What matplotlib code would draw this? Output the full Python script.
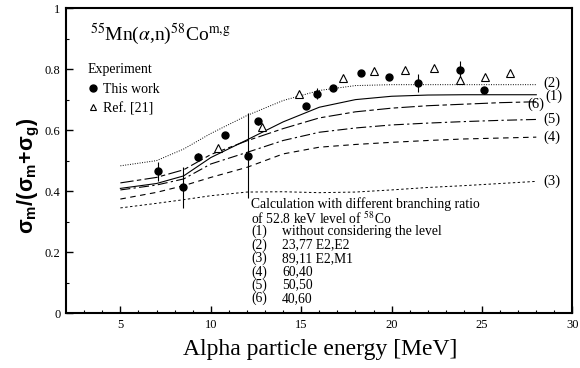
import numpy as np
import matplotlib
matplotlib.use('Agg')
import matplotlib.pyplot as plt
from matplotlib.lines import Line2D

plt.rcParams['font.family'] = ['Liberation Serif', 'DejaVu Serif']
plt.rcParams['mathtext.fontset'] = 'stix'

# Experimental points, this work (energy MeV, ratio, error)
e_this = [7.07, 8.49, 9.32, 10.8, 12.05, 12.59, 15.24, 15.89, 16.75, 18.32, 19.84, 21.46, 23.8, 25.1]
r_this = [0.465, 0.412, 0.513, 0.585, 0.516, 0.629, 0.679, 0.720, 0.738, 0.787, 0.775, 0.754, 0.797, 0.730]
err_this = [0.032, 0.068, 0.012, 0.0, 0.140, 0.012, 0.0, 0.018, 0.0, 0.0, 0.0, 0.030, 0.029, 0.012]

# Ref. [21]
e_ref = [10.41, 12.81, 14.89, 17.33, 19.0, 20.72, 22.33, 23.77, 25.15, 26.57]
r_ref = [0.543, 0.610, 0.717, 0.770, 0.793, 0.798, 0.805, 0.763, 0.775, 0.786]

# Calculated curves
e_calc = [5, 7, 8.5, 10, 12, 14, 16, 18, 20, 22, 24, 26, 28]
calc1 = [0.409, 0.425, 0.450, 0.510, 0.568, 0.627, 0.675, 0.700, 0.711, 0.715, 0.716, 0.716, 0.716]
calc2 = [0.483, 0.500, 0.538, 0.589, 0.648, 0.697, 0.730, 0.746, 0.749, 0.749, 0.749, 0.749, 0.749]
calc3 = [0.345, 0.360, 0.372, 0.385, 0.397, 0.398, 0.395, 0.397, 0.404, 0.412, 0.418, 0.425, 0.432]
calc4 = [0.374, 0.396, 0.418, 0.445, 0.478, 0.522, 0.544, 0.553, 0.560, 0.566, 0.571, 0.574, 0.577]
calc5 = [0.404, 0.420, 0.440, 0.489, 0.527, 0.566, 0.593, 0.607, 0.617, 0.623, 0.628, 0.632, 0.635]
calc6 = [0.427, 0.445, 0.470, 0.520, 0.565, 0.605, 0.640, 0.660, 0.672, 0.680, 0.685, 0.690, 0.693]

curve_tags = ['(1)', '(2)', '(3)', '(4)', '(5)', '(6)']
curve_desc = ['without considering the level', '23,77 E2,E2', '89,11 E2,M1',
              '60,40', '50,50', '40,60']

fig = plt.figure(figsize=(5.8, 3.68), dpi=100)
ax = fig.add_axes([0.114, 0.149, 0.873, 0.829])

ax.plot(e_calc, calc1, color='black', lw=0.8, ls='-')
ax.plot(e_calc, calc2, color='black', lw=0.7, ls=(0, (1, 1.5)))
ax.plot(e_calc, calc3, color='black', lw=0.7, ls=(0, (2.5, 2.5)))
ax.plot(e_calc, calc4, color='black', lw=0.8, ls=(0, (5, 4)))
ax.plot(e_calc, calc5, color='black', lw=0.8, ls=(0, (9, 3, 2, 3)))
ax.plot(e_calc, calc6, color='black', lw=0.8, ls=(0, (12, 3, 4, 3)))

ax.errorbar(e_this, r_this, yerr=err_this, fmt='o', color='black', ms=5,
            elinewidth=0.8, capsize=0)
ax.plot(e_ref, r_ref, '^', mfc='white', mec='black', mew=0.8, ms=5.5, ls='none')

ax.set_xlim(2, 30)
ax.set_ylim(0, 1)
ax.set_xticks([5, 10, 15, 20, 25, 30])
ax.set_xticks(np.arange(3, 30, 1), minor=True)
ax.set_yticks([0, 0.2, 0.4, 0.6, 0.8, 1])
ax.set_yticklabels(['0', '0.2', '0.4', '0.6', '0.8', '1'])
ax.set_yticks(np.arange(0.1, 1, 0.2), minor=True)
ax.tick_params(which='major', direction='in', length=5, width=1, labelsize=9, pad=4)
ax.tick_params(which='minor', direction='in', length=2.5, width=0.8)
for s in ax.spines.values():
    s.set_linewidth(1.5)

ax.set_ylabel('σ$\\mathregular{_m}$/(σ$\\mathregular{_m}$+σ$\\mathregular{_g}$)',
              family='Liberation Sans', fontweight='bold', fontsize=15.5)
ax.yaxis.set_label_coords(-0.047, 0.45)
fig.text(0.552, 0.049, 'Alpha particle energy [MeV]', fontsize=17, ha='center', va='center')

ax.text(3.3, 0.913, r'$^{55}$Mn($\alpha$,n)$^{58}$Co$^{\mathrm{m{,}g}}$', fontsize=14, va='center')

# legend handles without the error bar stroke
h1 = Line2D([], [], ls='none', marker='o', color='black', ms=5)
h2 = Line2D([], [], ls='none', marker='^', mfc='white', mec='black', mew=0.8, ms=4.5)
leg = ax.legend(handles=[h1, h2], labels=['This work', 'Ref. [21]'], loc='upper left',
                bbox_to_anchor=(0.0415, 0.82), frameon=False, title='Experiment',
                fontsize=10, title_fontsize=10, handletextpad=0.25, labelspacing=0.42,
                borderaxespad=0, borderpad=0, handlelength=0.86)
leg._legend_box.align = 'left'
leg._legend_box.sep = 5

# curve tags at the right
tag_pos = [(28.5, 0.711), (28.4, 0.755), (28.4, 0.432), (28.4, 0.578), (28.4, 0.636), (27.5, 0.684)]
for t, (tx, ty) in zip(curve_tags, tag_pos):
    ax.text(tx, ty, t, fontsize=10.5, va='center')

ax.text(12.25, 0.356, 'Calculation with different branching ratio', fontsize=9.8, va='center')
ax.text(12.25, 0.311, r'of 52.8 keV level of $^{58}$Co', fontsize=9.8, va='center')
for i, (t, d) in enumerate(zip(curve_tags, curve_desc)):
    yy = 0.267 - i * 0.0438
    ax.text(12.25, yy, t, fontsize=9.8, va='center')
    ax.text(13.95, yy, d, fontsize=9.8, va='center')

fig.savefig('out.png', dpi=100)
